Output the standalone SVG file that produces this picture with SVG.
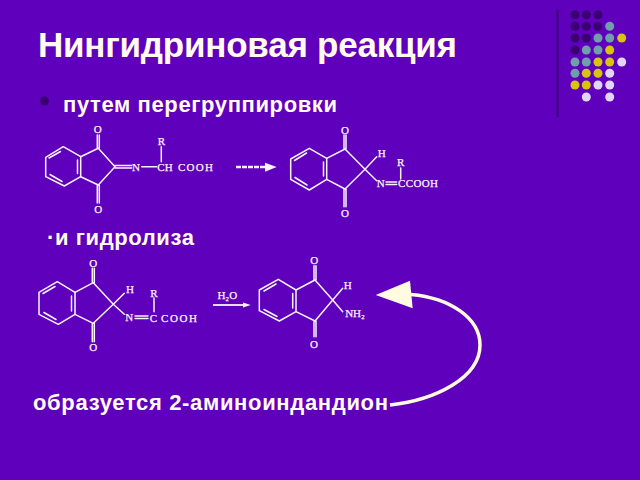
<svg xmlns="http://www.w3.org/2000/svg" width="640" height="480" viewBox="0 0 640 480">
<style>
.t{font-family:"Liberation Sans",Arial,sans-serif;font-weight:700;fill:#FFFBEF}
.b{fill:none;stroke:#FBF3FF;stroke-width:1.5;stroke-linecap:round;stroke-linejoin:round}
.a{font-family:"Liberation Serif","Times New Roman",serif;fill:#FBF3FF;stroke:#FBF3FF;stroke-width:.25;font-size:11px;text-anchor:middle}
.k{fill:#3A0072}.g{fill:#6F9FA8}.y{fill:#D6C40E}.l{fill:#E2D6F6}
</style>
<rect width="640" height="480" fill="#5F00BD"/>
<g id="decor">
<line x1="557.5" y1="10" x2="557.5" y2="117" stroke="#3A0072" stroke-width="2"/>
<g class="k"><circle cx="575" cy="14.7" r="4.5"/><circle cx="586.3" cy="14.7" r="4.5"/><circle cx="598" cy="14.7" r="4.5"/><circle cx="575" cy="26.3" r="4.5"/><circle cx="586.3" cy="26.3" r="4.5"/><circle cx="598" cy="26.3" r="4.5"/><circle cx="575" cy="38" r="4.5"/><circle cx="586.3" cy="38" r="4.5"/><circle cx="575" cy="50" r="4.5"/></g>
<g class="g"><circle cx="609.7" cy="26.3" r="4.5"/><circle cx="598" cy="38" r="4.5"/><circle cx="609.7" cy="38" r="4.5"/><circle cx="586.3" cy="50" r="4.5"/><circle cx="598" cy="50" r="4.5"/><circle cx="575" cy="62" r="4.5"/><circle cx="586.3" cy="62" r="4.5"/><circle cx="575" cy="73.3" r="4.5"/></g>
<g class="y"><circle cx="621.7" cy="38" r="4.5"/><circle cx="609.7" cy="50" r="4.5"/><circle cx="598" cy="62" r="4.5"/><circle cx="609.7" cy="62" r="4.5"/><circle cx="586.3" cy="73.3" r="4.5"/><circle cx="598" cy="73.3" r="4.5"/><circle cx="575" cy="85" r="4.5"/><circle cx="586.3" cy="85" r="4.5"/></g>
<g class="l"><circle cx="621.7" cy="62" r="4.5"/><circle cx="609.7" cy="73.3" r="4.5"/><circle cx="598" cy="85" r="4.5"/><circle cx="609.7" cy="85" r="4.5"/><circle cx="586.3" cy="97" r="4.5"/><circle cx="609.7" cy="97" r="4.5"/></g>
</g>
<text class="t" x="38" y="57" font-size="35" textLength="419" lengthAdjust="spacing">Нингидриновая реакция</text>
<circle cx="44.5" cy="101" r="4.5" fill="#3A0072"/>
<text class="t" x="63" y="112" font-size="22" textLength="274" lengthAdjust="spacing">путем перегруппировки</text>
<text class="t" x="47" y="245" font-size="22" textLength="147" lengthAdjust="spacing">·и гидролиза</text>
<text class="t" x="33" y="410" font-size="22" textLength="355" lengthAdjust="spacing">образуется 2-аминоиндандион</text>

<g id="mol1">
<path class="b" d="M63.3 146.7L80.7 156.7V176.7L64.3 186L45.7 176.7V157.3ZM60.5 151.5L49 158M77.5 160V173.5M62 181.5L50 174.5"/>
<path class="b" d="M80.7 156.7L98.3 148.3L115 166.7L98.3 185L80.7 176.7M97.3 135V148M99.3 135V148M97.3 185V203M99.3 185V203M115 165.5H131.7M115 168H131.7M141.7 166.7H156.7M161.3 146.7V161.7"/>
<text class="a" x="97.7" y="133">O</text><text class="a" x="98.3" y="212.5">O</text><text class="a" x="136" y="170.5">N</text><text class="a" x="161.3" y="145">R</text><text class="a" x="165" y="170.5">CH</text>
<text class="a" x="195.5" y="170.5" font-size="9.5" textLength="35">COOH</text>
</g>
<g id="arrow1">
<line x1="236" y1="167" x2="265" y2="167" stroke="#FBF3FF" stroke-width="2.4" stroke-dasharray="5 1"/>
<polygon points="265,162.7 276.7,167 265,171.7" fill="#FBF3FF"/>
</g>
<g id="mol2">
<path class="b" d="M309.3 148.3L326.7 158.3V179.3L309.3 190L290.7 179.3V159ZM306.5 153L294.5 160.5M323.5 162V176M307 185L295 177.5"/>
<path class="b" d="M326.7 158.3L345 149L365 169.3L345 189L326.7 179.3M344 135V149M346 135V149M344 189V206.7M346 189V206.7M365 169.3L376.7 156.7M365 169.3L376.7 180.7M386 182H396.7M386 184.5H396.7M400.7 168V179"/>
<text class="a" x="345" y="133.5">O</text><text class="a" x="345" y="217">O</text><text class="a" x="381.7" y="156.5">H</text><text class="a" x="380.7" y="187">N</text><text class="a" x="400.7" y="166">R</text>
<text class="a" x="418" y="187" font-size="10" textLength="40">CCOOH</text>
</g>
<g id="mol3">
<path class="b" d="M57.3 281.7L75 292.3V314.3L58.3 324.3L39 314.3V292.3ZM55 286.5L43 293.5M71.5 296V311M56 319.5L44 312.5"/>
<path class="b" d="M75 292.3L93.3 282.7L113.3 304.3L93.3 323.3L75 314.3M92.3 268.3V282.7M94.3 268.3V282.7M92.3 323V341.7M94.3 323V341.7M113.3 304.3L124.3 293.3M113.3 304.3L124.3 314.3M135 316H148M135 318.5H148M154 298V311.7"/>
<text class="a" x="93.3" y="267" font-size="12">O</text><text class="a" x="93.3" y="351" font-size="12">O</text><text class="a" x="130" y="292.5" font-size="12">H</text><text class="a" x="129.3" y="321" font-size="12">N</text><text class="a" x="154" y="297" font-size="12">R</text><text class="a" x="153.3" y="322" font-size="12">C</text>
<text class="a" x="179" y="322" font-size="11" textLength="36">COOH</text>
</g>
<g id="arrow2">
<text class="a" x="227.3" y="298.5" font-size="9">H₂O</text>
<line x1="213" y1="305" x2="245" y2="305" stroke="#FBF3FF" stroke-width="1.8"/>
<polygon points="243,302.5 250.7,305 243,307.5" fill="#FBF3FF"/>
</g>
<g id="mol4">
<path class="b" d="M278.3 279.3L296 290V311.7L279.3 321L259.3 310.7V290ZM276 284L264 291M292.7 293.5V308M277 316.5L264 309.5"/>
<path class="b" d="M296 290L315 280L332.7 300L315 321L296 311.7M314 265.7V280M316 265.7V280M314 321V336.7M316 321V336.7M332.7 300L342.7 288.3M332.7 300L342.7 311.7"/>
<text class="a" x="314.3" y="264" font-size="12">O</text><text class="a" x="314" y="347.5" font-size="12">O</text><text class="a" x="347.7" y="289" font-size="12">H</text>
<text class="a" x="355" y="317" font-size="12">NH₂</text>
</g>
<g id="connectors">
<path d="M390 405C435 400 480 378 480 345C480 318 450 298 411 294.5" fill="none" stroke="#FFFBE0" stroke-width="3.5"/>
<polygon points="375.7,295 410,280.7 412.7,308.3" fill="#FFFBE0"/>
</g>
</svg>
